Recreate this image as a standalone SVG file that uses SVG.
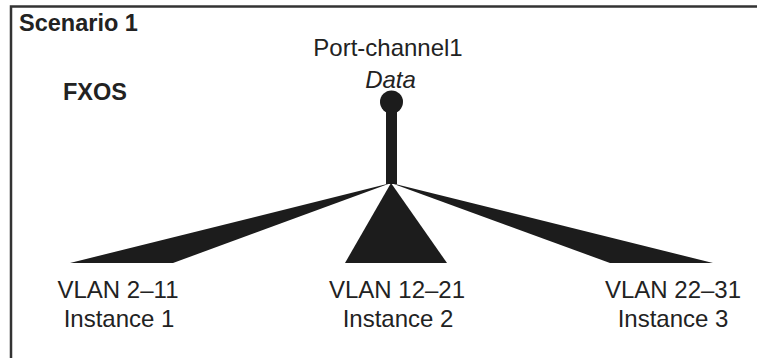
<svg xmlns="http://www.w3.org/2000/svg" width="757" height="358" viewBox="0 0 757 358">
<style>
.t{font-family:"Liberation Sans",Arial,sans-serif;fill:#222;font-size:24px}
.b{font-weight:bold;font-size:23.5px}
.c{text-anchor:middle}
.i{font-style:italic}
.k{fill:#1c1c1c}
.frame{fill:none;stroke:#333;stroke-width:2.5}
</style>
<rect width="757" height="358" fill="#fff"/>
<path class="frame" d="M11,358 V6.5 H757"/>
<g id="title"><text class="t b" x="19" y="31">Scenario 1</text></g>
<g id="fxos"><text class="t b" x="63" y="100">FXOS</text></g>
<g id="connectors">
<polygon class="k" points="391,183 70,263 173,263"/>
<polygon class="k" points="391,183 345,263 447,263"/>
<polygon class="k" points="391,183 610,263 713,263"/>
</g>
<g id="port-channel1">
<circle class="k" cx="391.5" cy="102" r="11.5"/>
<rect class="k" x="386" y="102" width="11" height="82"/>
<text class="t c" x="388" y="56">Port-channel1</text>
<text class="t c i" x="390.5" y="88">Data</text>
</g>
<g id="instance1">
<text class="t c" x="118" y="298">VLAN 2–11</text>
<text class="t c" x="119" y="327">Instance 1</text>
</g>
<g id="instance2">
<text class="t c" x="397" y="298">VLAN 12–21</text>
<text class="t c" x="398" y="327">Instance 2</text>
</g>
<g id="instance3">
<text class="t c" x="673" y="298">VLAN 22–31</text>
<text class="t c" x="673" y="327">Instance 3</text>
</g>
</svg>
